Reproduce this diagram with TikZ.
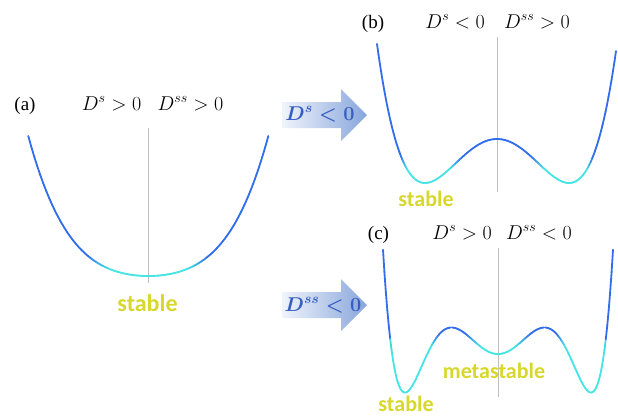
\RequirePackage{fix-cm}
\documentclass[tikz,border=0pt]{standalone}
\usepackage{amsmath}
\usepackage{fontspec}
\setmainfont{Liberation Serif}
\newfontfamily\labelfont{Carlito}
\usetikzlibrary{positioning}

\definecolor{wellhigh}{RGB}{50,110,235}
\definecolor{welllow}{RGB}{70,228,228}
\definecolor{stablecol}{RGB}{215,215,45}
\definecolor{pushtext}{RGB}{55,95,195}
\definecolor{pushdark}{RGB}{135,165,220}
\definecolor{pushlight}{RGB}{240,244,251}

\begin{document}
\begin{tikzpicture}[x=1pt,y=-1pt,
    tag/.style={font=\fontsize{19}{21}\selectfont, inner sep=0pt},
    cond/.style={font=\fontsize{20}{22}\selectfont, inner sep=0pt},
    state/.style={font=\labelfont\bfseries\fontsize{22}{24}\selectfont, text=stablecol, inner sep=0pt, anchor=base},
    push/.style={font=\boldmath\fontsize{20}{22}\selectfont, text=pushtext, inner sep=0pt, anchor=base},
    axis/.style={gray!50, line width=0.8pt},
    curve/.style={line width=1.8pt, line cap=round},
    declare function={sq(\u)=\u*\u;
      ea(\x)=276-140*(0.42*sq((\x-148.3)/120)+0.58*sq(sq((\x-148.3)/120)));
      eb(\x)=139-44*(sq(sq((\x-497)/72))-2*sq((\x-497)/72));
      ec(\x)=354-1850*(sq((\x-498)/93)^3/6-0.3125*sq(sq((\x-498)/93))+0.125*sq((\x-498)/93));}]

    \useasboundingbox (0,0) rectangle (618,416);

    % axes of symmetry
    \draw[axis] (148.3,128) -- (148.3,283);
    \draw[axis] (497,37) -- (497,192);
    \draw[axis] (498,248) -- (498,397);

    % energy curves, cyan near the bottom
    \foreach \f/\xs/\xe/\thr in {ea/28.3/268.3/263, eb/377/616/163, ec/383/613/340}{
      \foreach \i in {0,...,159}{
        \pgfmathsetmacro{\xa}{\xs+(\xe-\xs)/160*\i}
        \pgfmathsetmacro{\xb}{\xs+(\xe-\xs)/160*(\i+1)}
        \pgfmathsetmacro{\ya}{\f(\xa)}
        \pgfmathsetmacro{\yb}{\f(\xb)}
        \pgfmathsetmacro{\mix}{min(100,max(0,50+((\ya+\yb)/2-\thr)*8))}
        \draw[curve, welllow!\mix!wellhigh] (\xa,\ya) -- (\xb,\yb);
      }
    }

    % panel labels
    \node[tag, anchor=base] (la) at (25,110) {(a)};
    \node[cond, base right=46pt of la] (las) {$D^{s}>0$};
    \node[cond, base right=16pt of las] (lass) {$D^{ss}>0$};

    \node[tag, anchor=base] (lb) at (373,28) {(b)};
    \node[cond, base right=41pt of lb] (lbs) {$D^{s}<0$};
    \node[cond, base right=19pt of lbs] (lbss) {$D^{ss}>0$};

    \node[tag, anchor=base] (lc) at (378.5,239) {(c)};
    \node[cond, base right=43pt of lc] (lcs) {$D^{s}>0$};
    \node[cond, base right=14pt of lcs] (lcss) {$D^{ss}<0$};

    % states
    \node[state, font=\labelfont\bfseries\fontsize{24}{26}\selectfont] (sa) at (147.5,311) {stable};
    \node[state] (sb) at (426,206) {stable};
    \node[state] (sc) at (406,411) {stable};
    \node[state] (mc) at (494,378) {metastable};

    % push arrows
    \shade[left color=pushlight, right color=pushdark] (282,102) -- (341,102) -- (341,89) -- (367,115) -- (341,141) -- (341,128) -- (282,128) -- cycle;
    \node[push] (pushs) at (320,120) {$D^{s}<0$};
    \shade[left color=pushlight, right color=pushdark] (282,292) -- (341,292) -- (341,279) -- (367,305) -- (341,331) -- (341,318) -- (282,318) -- cycle;
    \node[push] (pushss) at (323,311) {$D^{ss}<0$};
\end{tikzpicture}
\end{document}
